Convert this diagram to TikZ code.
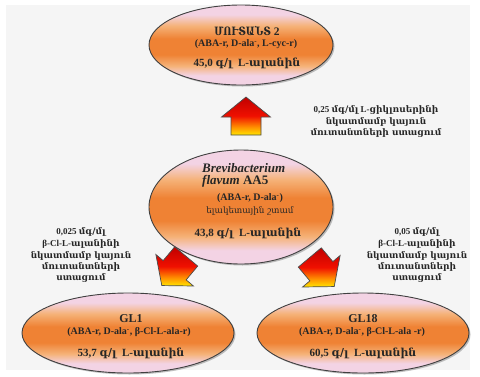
\documentclass[tikz,border=0pt]{standalone}
\usepackage{fontspec}
\setmainfont{Liberation Serif}
\newfontfamily\armfont{DejaVu Serif}
\newfontfamily\armnarrow[FakeStretch=0.82]{DejaVu Serif}
\usetikzlibrary{shapes.geometric,calc}
\newcommand{\arm}[1]{{\armfont #1}}
\newcommand{\sups}{\textsuperscript{-}}
\definecolor{bgc}{HTML}{F5F5F5}
\definecolor{pinkE}{HTML}{F3D3E4}
\definecolor{orE}{HTML}{EF8234}
\definecolor{orL}{HTML}{F5B278}
\definecolor{ylw}{HTML}{FFE600}
\definecolor{arO}{HTML}{FF8C00}
\definecolor{arR}{HTML}{F01000}
\definecolor{arD}{HTML}{C00000}
\pgfdeclareverticalshading{ellsh}{100bp}{color(0bp)=(pinkE); color(25bp)=(pinkE); color(31bp)=(pinkE); color(37bp)=(orL); color(44bp)=(orE); color(54bp)=(orE); color(62bp)=(orL); color(69bp)=(pinkE); color(75bp)=(pinkE); color(100bp)=(pinkE)}
\pgfdeclareverticalshading{arrsh}{100bp}{color(0bp)=(ylw); color(25bp)=(ylw); color(36bp)=(arO); color(50bp)=(arR); color(75bp)=(arD); color(100bp)=(arD)}
\tikzset{
  ell/.style={ellipse, draw=black!75, line width=0.9pt, shading=ellsh, inner sep=0pt},
  ellshadow/.style={ellipse, fill=black!45, opacity=0.55, inner sep=0pt},
  small/.style={inner sep=0pt, font=\bfseries\fontsize{10}{11}\selectfont, text=black!85},
  big/.style={inner sep=0pt, font=\bfseries\fontsize{11}{13}\selectfont, text=black!85},
  title/.style={inner sep=0pt, font=\bfseries\fontsize{12}{14}\selectfont, text=black!85},
  note/.style={inner sep=0pt, font=\bfseries\fontsize{9}{10}\selectfont, text=black!85},
  arrsty/.style={shading=arrsh, draw=black!70, line width=0.7pt, line join=miter}
}
\newcommand{\blockarrow}[2]{%
  \shade[arrsty] ($(#1)+(#2:-19)+(#2+90:15)$) -- ($(#1)+(#2:-1)+(#2+90:15)$) --
    ($(#1)+(#2:-1)+(#2+90:24.5)$) -- ($(#1)+(#2:19)$) --
    ($(#1)+(#2:-1)+(#2-90:24.5)$) -- ($(#1)+(#2:-1)+(#2-90:15)$) --
    ($(#1)+(#2:-19)+(#2-90:15)$) -- cycle;}
\begin{document}
\begin{tikzpicture}[x=1pt,y=-1pt]
\useasboundingbox (0,0) rectangle (480,376);
\fill[white] (0,0) rectangle (480,376);
\fill[bgc] (6,5) rectangle (470,370);
% shadows
\node[ellshadow, minimum width=184pt, minimum height=80pt] (sT) at (242.5,46.5) {};
\node[ellshadow, minimum width=184pt, minimum height=114pt] (sM) at (242.5,208.5) {};
\node[ellshadow, minimum width=212pt, minimum height=80pt] (sL) at (129.5,334.5) {};
\node[ellshadow, minimum width=212pt, minimum height=80pt] (sR) at (364.5,334.5) {};
% ellipses
\node[ell, minimum width=184pt, minimum height=80pt] (eT) at (241,45) {};
\node[ell, minimum width=184pt, minimum height=114pt] (eM) at (241,207) {};
\node[ell, minimum width=212pt, minimum height=80pt] (eL) at (128,333) {};
\node[ell, minimum width=212pt, minimum height=80pt] (eR) at (363,333) {};
% arrows
\coordinate (aU) at (246,116);
\coordinate (aL) at (174,271);
\coordinate (aR) at (322,272);
\blockarrow{aU}{-90}
\blockarrow{aL}{130}
\blockarrow{aR}{50}
% top ellipse text
\node[title, font=\bfseries\fontsize{11.5}{13}\selectfont] (t1) at (247,30.5) {{\armnarrow ՄՈՒՏԱՆՏ} 2};
\node[small] (t2) at (246,44.5) {(ABA-r, D-ala\sups, L-cyc-r)};
\node[big] (t3) at (247,63) {45,0 \arm{գ/լ}\ \ L-\arm{ալանին}};
% middle ellipse text
\node[inner sep=0pt, anchor=north west, align=left, text=black!85,
  font=\bfseries\fontsize{13}{12.5}\selectfont] (m1) at (202,163)
  {\itshape Brevibacterium\\\itshape flavum\upshape\ AA5};
\node[small] (m3) at (250,198.5) {(ABA-r, D-ala\sups)};
\node[inner sep=0pt, font=\fontsize{8.8}{10}\selectfont, text=black!85] (m4) at (250,211) {\arm{ելակետային շտամ}};
\node[big] (m5) at (248,233) {43,8 \arm{գ/լ}\ \ L-\arm{ալանին}};
% bottom-left text
\node[title] (l1) at (131,319) {GL1};
\node[small] (l2) at (129,332.5) {(ABA-r, D-ala\sups, β-Cl-L-ala-r)};
\node[big] (l3) at (131,353) {53,7 \arm{գ/լ}\ \ L-\arm{ալանին}};
% bottom-right text
\node[title] (r1) at (363,319) {GL18};
\node[small] (r2) at (362,332.5) {(ABA-r, D-ala\sups, β-Cl-L-ala -r)};
\node[big] (r3) at (363,353) {60,5 \arm{գ/լ}\ \ L-\arm{ալանին}};
% annotations
\node[note] (n1) at (376,110) {0,25 \arm{մգ/մլ} L-\arm{ցիկլոսերինի}};
\node[note] (n2) at (376,122) {\arm{նկատմամբ կայուն}};
\node[note] (n3) at (376,133.5) {\arm{մուտանտների ստացում}};
\node[note] (p1) at (81,232) {0,025 \arm{մգ/մլ}};
\node[note] (p2) at (81,244) {β-Cl-L-\arm{ալանինի}};
\node[note] (p3) at (81,256) {\arm{նկատմամբ կայուն}};
\node[note] (p4) at (81,267) {\arm{մուտանտների}};
\node[note] (p5) at (81,278) {\arm{ստացում}};
\node[note] (q1) at (417,232) {0,05 \arm{մգ/մլ}};
\node[note] (q2) at (417,244) {β-Cl-L-\arm{ալանինի}};
\node[note] (q3) at (417,256) {\arm{նկատմամբ կայուն}};
\node[note] (q4) at (417,267) {\arm{մուտանտների}};
\node[note] (q5) at (417,278) {\arm{ստացում}};
\end{tikzpicture}
\end{document}
